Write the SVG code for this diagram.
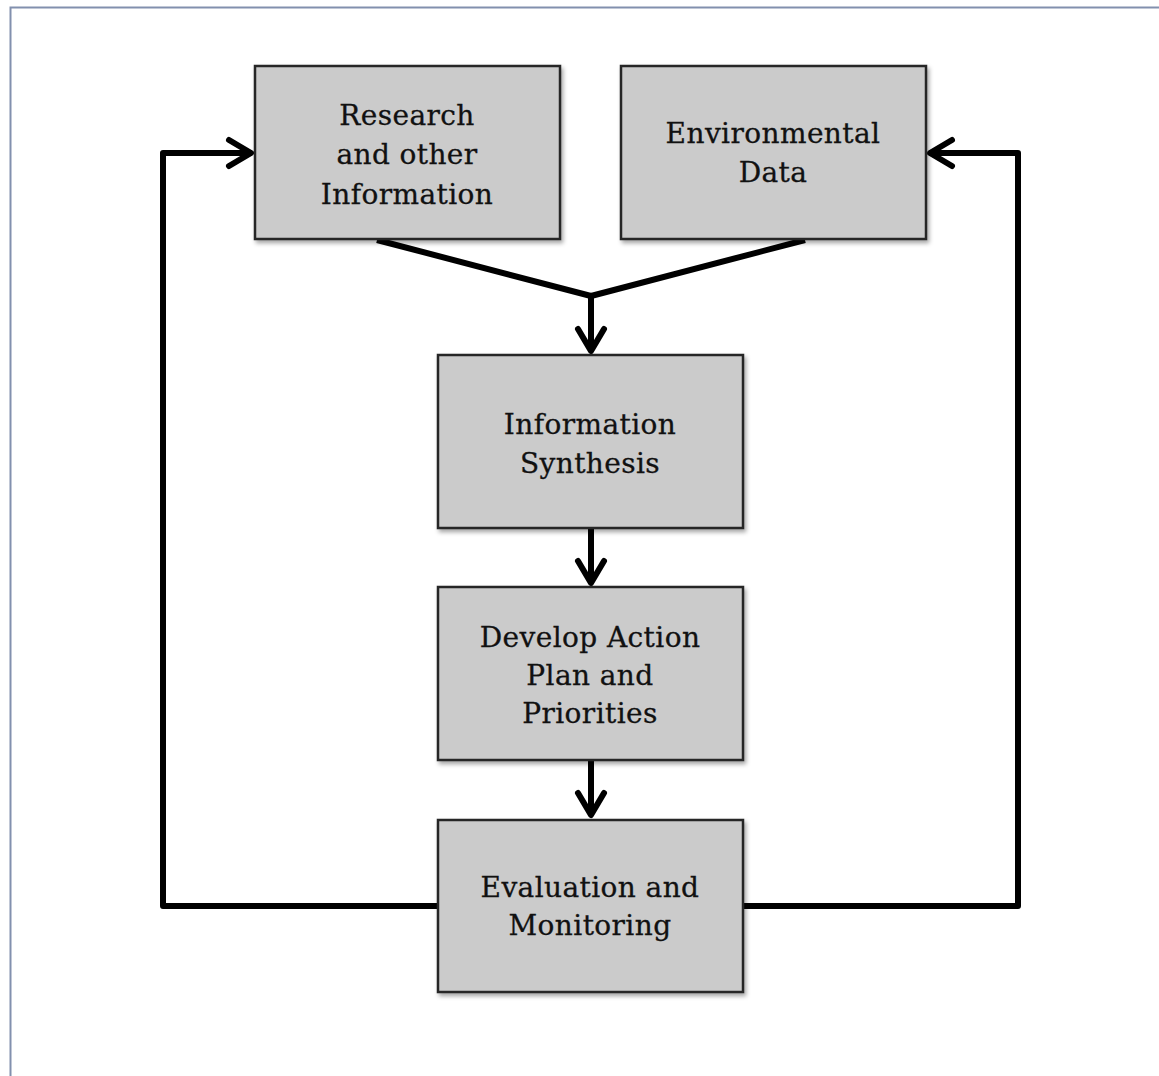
<svg xmlns="http://www.w3.org/2000/svg" width="1159" height="1076" viewBox="0 0 1159 1076">
  <style>
    .box { fill: #cbcbcb; stroke: #262626; stroke-width: 2.5; }
    .lbl { font-family: "DejaVu Serif", "Liberation Serif", serif; font-size: 28px; letter-spacing: 0.4px; fill: #111111; text-anchor: middle; stroke: #111111; stroke-width: 0.3; }
    .conn { fill: none; stroke: #000000; stroke-width: 6; stroke-linejoin: round; }
  </style>
  <defs>
    <filter id="shadow" x="-10%" y="-10%" width="125%" height="125%">
      <feDropShadow dx="2" dy="3" stdDeviation="2" flood-color="#000000" flood-opacity="0.35"/>
    </filter>
    <marker id="arrow" markerUnits="userSpaceOnUse" viewBox="-30 -20 40 40" refX="0" refY="0" markerWidth="40" markerHeight="40" orient="auto">
      <path d="M-22,-13 L0,0 L-22,13" fill="none" stroke="#000000" stroke-width="6" stroke-linecap="round" stroke-linejoin="round"/>
    </marker>
  </defs>
  <rect x="0" y="0" width="1159" height="1076" fill="#ffffff"/>
  <path d="M10.5,1076 L10.5,7.5 L1159,7.5" fill="none" stroke="#8290ae" stroke-width="2"/>

  <g id="connectors">
    <path class="conn" d="M377,240 L591,296 L805,240"/>
    <path class="conn" d="M591,296 L591,351" marker-end="url(#arrow)"/>
    <path class="conn" d="M591,528 L591,583" marker-end="url(#arrow)"/>
    <path class="conn" d="M591,761 L591,815" marker-end="url(#arrow)"/>
    <path class="conn" d="M438,906 L163,906 L163,153 L251,153" marker-end="url(#arrow)"/>
    <path class="conn" d="M743,906 L1018,906 L1018,153 L930,153" marker-end="url(#arrow)"/>
  </g>

  <g id="research">
    <rect class="box" x="255" y="66" width="305" height="173" filter="url(#shadow)"/>
    <text class="lbl" x="407" y="125">Research</text>
    <text class="lbl" x="407" y="164">and other</text>
    <text class="lbl" x="407" y="204">Information</text>
  </g>
  <g id="environmental">
    <rect class="box" x="621" y="66" width="305" height="173" filter="url(#shadow)"/>
    <text class="lbl" x="773" y="143">Environmental</text>
    <text class="lbl" x="773" y="182">Data</text>
  </g>
  <g id="synthesis">
    <rect class="box" x="438" y="355" width="305" height="173" filter="url(#shadow)"/>
    <text class="lbl" x="590" y="434">Information</text>
    <text class="lbl" x="590" y="473">Synthesis</text>
  </g>
  <g id="develop">
    <rect class="box" x="438" y="587" width="305" height="173" filter="url(#shadow)"/>
    <text class="lbl" x="590" y="647">Develop Action</text>
    <text class="lbl" x="590" y="685">Plan and</text>
    <text class="lbl" x="590" y="723">Priorities</text>
  </g>
  <g id="evaluation">
    <rect class="box" x="438" y="820" width="305" height="172" filter="url(#shadow)"/>
    <text class="lbl" x="590" y="897">Evaluation and</text>
    <text class="lbl" x="590" y="935">Monitoring</text>
  </g>
</svg>
